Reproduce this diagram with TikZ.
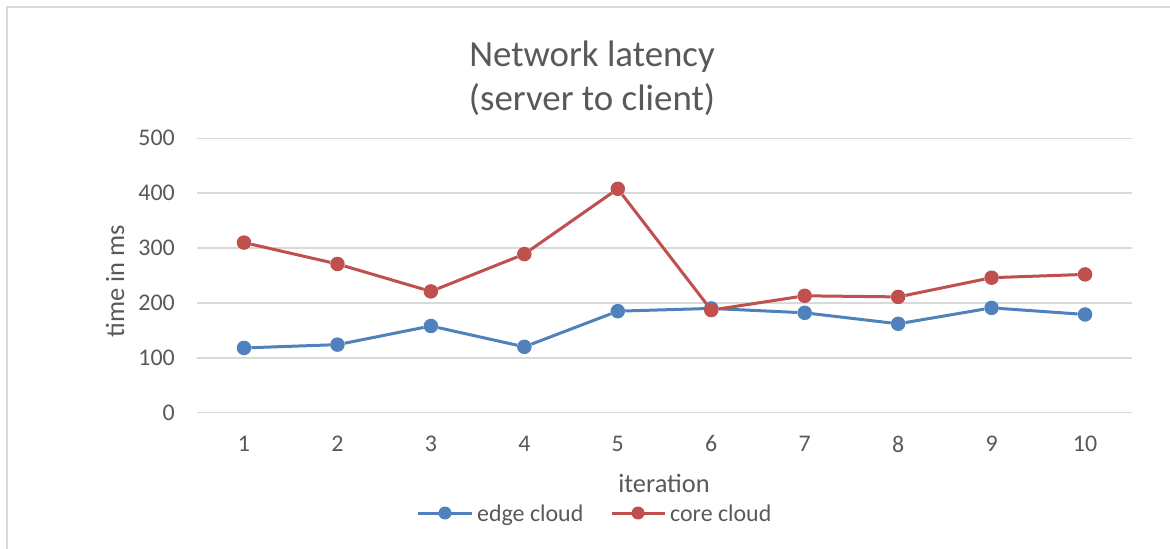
\documentclass[tikz,border=0pt]{standalone}
\usepackage{fontspec}
\setmainfont{Carlito}
\definecolor{txt}{HTML}{595959}
\definecolor{gridc}{HTML}{D9D9D9}
\definecolor{edgec}{HTML}{4F81BD}
\definecolor{corec}{HTML}{C0504D}
\begin{document}
\begin{tikzpicture}[x=1bp,y=-1bp,
  gridline/.style={gridc,line width=1.4bp},
  ticklab/.style={text=txt,font=\fontsize{24}{28}\selectfont,inner sep=0pt},
  axtitle/.style={text=txt,font=\fontsize{26.5}{30}\selectfont,inner sep=0pt},
  edgemark/.style={circle,fill=edgec,draw=none,inner sep=0pt,minimum size=14.5bp},
  coremark/.style={circle,fill=corec,draw=none,inner sep=0pt,minimum size=14.5bp},
  edgeline/.style={edgec,line width=3bp,line join=round},
  coreline/.style={corec,line width=3bp,line join=round}]
\useasboundingbox (0,0) rectangle (1170,549);
\fill[white] (0,0) rectangle (1170,549);
\draw[gridc,line width=1.5bp] (7,549) -- (7,7) -- (1170,7);
% grid and y ticks
\foreach \v in {0,...,5}{
  \pgfmathsetmacro{\yy}{412.7-\v*54.88}
  \draw[gridline] (197,\yy) -- (1132,\yy);
  \ifnum\v=0
    \node[ticklab,anchor=east] (yt\v) at (175,\yy) {0};
  \else
    \node[ticklab,anchor=east] (yt\v) at (175,\yy) {\v00};
  \fi
}
% x ticks
\foreach \i in {1,...,10}{
  \pgfmathsetmacro{\xx}{244+(\i-1)*93.45}
  \node[ticklab] (xt\i) at (\xx,444) {\i};
}
% title
\node[text=txt,font=\fontsize{37}{44}\selectfont,align=center,inner sep=0pt] (title) at (592,78) {Network latency\\(server to client)};
% axis titles
\node[axtitle,rotate=90] (ytitle) at (115,281) {time in ms};
\node[axtitle] (xtitle) at (664,483) {iteration};
% data
\foreach \i/\v in {1/118,2/124,3/158,4/120,5/185,6/190,7/182,8/162,9/191,10/179}{
  \pgfmathsetmacro{\xx}{244+(\i-1)*93.45}
  \pgfmathsetmacro{\yy}{412.7-\v*0.5488}
  \node[edgemark] (e\i) at (\xx,\yy) {};
}
\foreach \a/\b in {1/2,2/3,3/4,4/5,5/6,6/7,7/8,8/9,9/10}
  \draw[edgeline] (e\a) -- (e\b);
\foreach \i/\v in {1/310,2/271,3/221,4/289,5/408,6/187,7/213,8/211,9/246,10/252}{
  \pgfmathsetmacro{\xx}{244+(\i-1)*93.45}
  \pgfmathsetmacro{\yy}{412.7-\v*0.5488}
  \node[coremark] (c\i) at (\xx,\yy) {};
}
\foreach \a/\b in {1/2,2/3,3/4,4/5,5/6,6/7,7/8,8/9,9/10}
  \draw[coreline] (c\a) -- (c\b);
% legend
\coordinate (le1) at (418,513);
\coordinate (le2) at (472,513);
\draw[edgeline] (le1) -- (le2);
\node[edgemark,minimum size=13bp] (lem) at (445,513) {};
\node[ticklab,anchor=base west] (let) at (477,521.5) {edge cloud};
\coordinate (lc1) at (612,513);
\coordinate (lc2) at (665,513);
\draw[coreline] (lc1) -- (lc2);
\node[coremark,minimum size=13bp] (lcm) at (638,513) {};
\node[ticklab,anchor=base west] (lct) at (670,521.5) {core cloud};
\end{tikzpicture}
\end{document}
